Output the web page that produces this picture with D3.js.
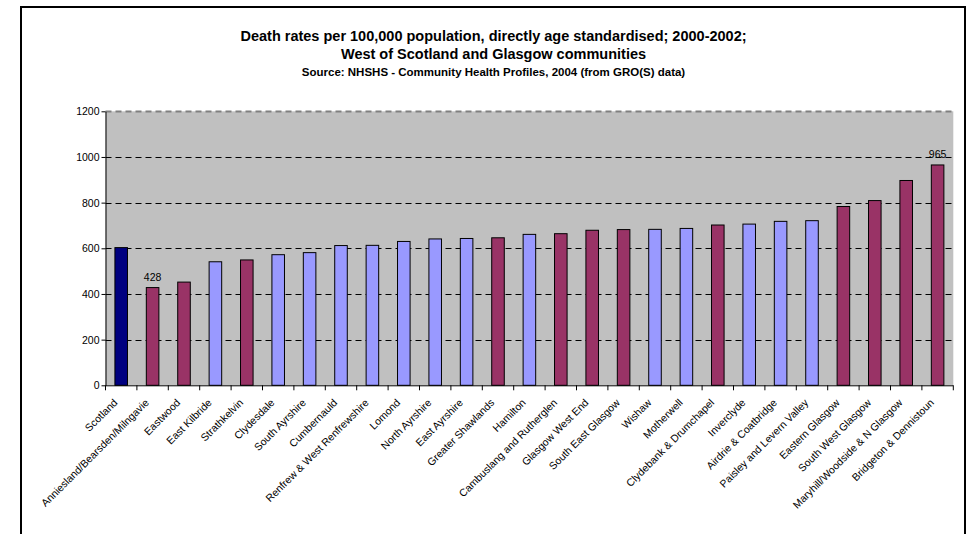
<!DOCTYPE html>
<html>
<head>
<meta charset="utf-8">
<script src="https://cdn.jsdelivr.net/npm/d3@7/dist/d3.min.js"></script>
<style>
  html, body { margin: 0; padding: 0; background: #fff; }
  svg { display: block; font-family: "Liberation Sans", Arial, sans-serif; }
</style>
</head>
<body>
<svg id="chart" width="968" height="534"></svg>
<script>
// Community areas, ordered by death rate
const areas = [
  "Scotland", "Anniesland/Bearsden/Milngavie", "Eastwood", "East Kilbride", "Strathkelvin",
  "Clydesdale", "South Ayrshire", "Cumbernauld", "Renfrew & West Renfrewshire", "Lomond",
  "North Ayrshire", "East Ayrshire", "Greater Shawlands", "Hamilton", "Cambuslang and Rutherglen",
  "Glasgow West End", "South East Glasgow", "Wishaw", "Motherwell", "Clydebank & Drumchapel",
  "Inverclyde", "Airdrie & Coatbridge", "Paisley and Levern Valley", "Eastern Glasgow",
  "South West Glasgow", "Maryhill/Woodside & N Glasgow", "Bridgeton & Dennistoun"
];

// Directly age standardised death rates per 100,000, 2000-2002
const rates = [
  603, 428, 452, 541, 549,
  572, 581, 612, 613, 630,
  641, 643, 646, 661, 664,
  679, 682, 683, 687, 702,
  706, 718, 721, 783,
  809, 897, 965
];

// Area type: national figure, Greater Glasgow community, other West of Scotland community
const areaType = [
  "national", "glasgow", "glasgow", "west", "glasgow",
  "west", "west", "west", "west", "west",
  "west", "west", "glasgow", "west", "glasgow",
  "glasgow", "glasgow", "west", "west", "glasgow",
  "west", "west", "west", "glasgow",
  "glasgow", "glasgow", "glasgow"
];

// Values printed above their bars
const labelledAreas = ["Anniesland/Bearsden/Milngavie", "Bridgeton & Dennistoun"];

const yTicks = [0, 200, 400, 600, 800, 1000, 1200];

const titleLines = [
  "Death rates per 100,000 population, directly age standardised; 2000-2002;",
  "West of Scotland and Glasgow communities"
];
const sourceLine = "Source: NHSHS - Community Health Profiles, 2004 (from GRO(S) data)";

const data = areas.map((a, i) => ({ area: a, rate: rates[i], type: areaType[i] }));

const svg = d3.select("#chart");

// Outer chart frame
svg.append("path")
  .attr("d", "M21,540 V7 H965 V540")
  .attr("fill", "none")
  .attr("stroke", "#000")
  .attr("stroke-width", 2);

// Titles
const cx = 493.5;
svg.append("text")
  .attr("x", cx).attr("y", 40.5)
  .attr("text-anchor", "middle")
  .attr("font-size", 14.5).attr("font-weight", "bold")
  .text(titleLines[0]);
svg.append("text")
  .attr("x", cx).attr("y", 58.5)
  .attr("text-anchor", "middle")
  .attr("font-size", 14.5).attr("font-weight", "bold")
  .text(titleLines[1]);
svg.append("text")
  .attr("x", cx).attr("y", 75.5)
  .attr("text-anchor", "middle")
  .attr("font-size", 11.5).attr("font-weight", "bold")
  .text(sourceLine);

// Plot area
const plot = { left: 105.5, right: 953.3, top: 111.3, bottom: 385.3 };

const x = d3.scaleBand()
  .domain(areas)
  .range([plot.left, plot.right])
  .paddingInner(0.6)
  .paddingOuter(0.3);

const y = d3.scaleLinear()
  .domain([0, 1200])
  .range([plot.bottom, plot.top]);

const colour = d3.scaleOrdinal()
  .domain(["national", "glasgow", "west"])
  .range(["#000080", "#993366", "#9999FF"]);

// Grey plot background
svg.append("rect")
  .attr("x", plot.left).attr("y", plot.top)
  .attr("width", plot.right - plot.left)
  .attr("height", plot.bottom - plot.top)
  .attr("fill", "#C0C0C0");

// Dashed gridlines
svg.append("g")
  .selectAll("line")
  .data(yTicks.filter(t => t > 0))
  .join("line")
  .attr("x1", plot.left).attr("x2", plot.right)
  .attr("y1", d => Math.round(y(d)) + 0.5).attr("y2", d => Math.round(y(d)) + 0.5)
  .attr("stroke", d => d === 1200 ? "#808080" : "#000")
  .attr("stroke-width", d => d === 1200 ? 2 : 1)
  .attr("stroke-dasharray", "6,4");

// Bars
svg.append("g")
  .selectAll("rect")
  .data(data)
  .join("rect")
  .attr("x", d => x(d.area))
  .attr("y", d => y(d.rate))
  .attr("width", x.bandwidth())
  .attr("height", d => y(0) - y(d.rate))
  .attr("fill", d => colour(d.type))
  .attr("stroke", "#000")
  .attr("stroke-width", 1);

// Value labels
svg.append("g")
  .selectAll("text")
  .data(data.filter(d => labelledAreas.includes(d.area)))
  .join("text")
  .attr("x", d => x(d.area) + x.bandwidth() / 2)
  .attr("y", d => y(d.rate) - 7)
  .attr("text-anchor", "middle")
  .attr("font-size", 10.5)
  .attr("fill", "#000")
  .text(d => d.rate);

// Y axis
const yAxis = d3.axisLeft(y).tickValues(yTicks).tickFormat(d3.format("d")).tickSize(4).tickSizeOuter(0);
const gy = svg.append("g")
  .attr("transform", `translate(${plot.left},0)`)
  .call(yAxis);
gy.select(".domain").attr("stroke", "#000");
gy.selectAll(".tick line").attr("stroke", "#000");
gy.selectAll(".tick text")
  .attr("font-size", 10.5)
  .attr("font-family", "Liberation Sans, Arial, sans-serif")
  .attr("fill", "#000")
  .attr("x", -6);

// X axis: ticks sit on category boundaries
const step = x.step();
const boundaries = d3.range(areas.length + 1).map(i => plot.left + i * step);
svg.append("line")
  .attr("x1", plot.left).attr("x2", plot.right)
  .attr("y1", plot.bottom + 0.5).attr("y2", plot.bottom + 0.5)
  .attr("stroke", "#000");
svg.append("g")
  .selectAll("line")
  .data(boundaries)
  .join("line")
  .attr("x1", d => d).attr("x2", d => d)
  .attr("y1", plot.bottom).attr("y2", plot.bottom + 5)
  .attr("stroke", "#000");

// Rotated category labels
svg.append("g")
  .selectAll("text")
  .data(areas)
  .join("text")
  .attr("transform", d => `translate(${x(d) + x.bandwidth() / 2 - 3},${plot.bottom + 18}) rotate(-45)`)
  .attr("text-anchor", "end")
  .attr("font-size", 10.5)
  .attr("fill", "#000")
  .text(d => d);
</script>
</body>
</html>
